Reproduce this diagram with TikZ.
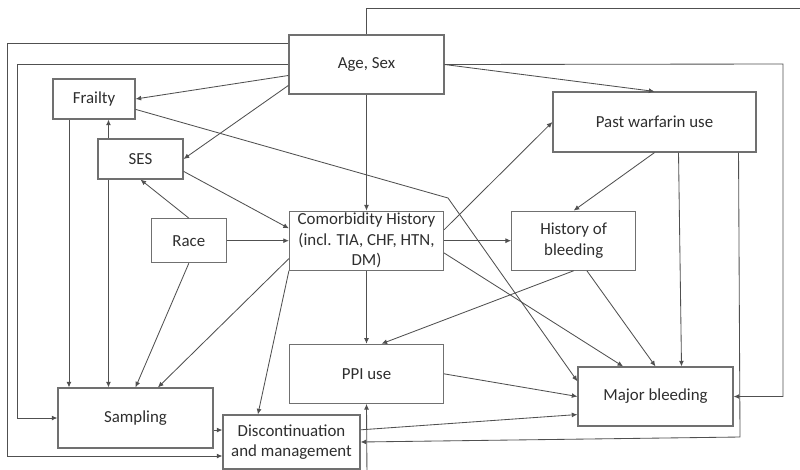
\documentclass[tikz,border=0pt]{standalone}
\usepackage{fontspec}
\setmainfont{Carlito}
\usepackage{tikz}
\usetikzlibrary{positioning, arrows.meta}
\definecolor{boxgrey}{HTML}{707070}
\definecolor{linegrey}{HTML}{505050}
\definecolor{textgrey}{HTML}{2E2E2E}

\begin{document}
\begin{tikzpicture}[x=0.025cm, y=-0.025cm,
    factor/.style={draw=boxgrey, line width=0.8pt, align=center, inner sep=0.5pt,
      font=\fontsize{12}{14.6}\selectfont\color{textgrey}},
    link/.style={draw=linegrey, line width=0.6pt, -{Latex[length=4pt, width=3.5pt]}},
    rail/.style={draw=linegrey, line width=0.6pt}]
  \useasboundingbox (0,0) rectangle (800,469);

  % factors
  \node[factor, minimum width=3.875cm, minimum height=1.475cm] (age) at (366.5,64.5) {Age, Sex};
  \node[factor, below=2.9cm of age, minimum width=3.85cm, minimum height=1.475cm] (comor)
    {Comorbidity History\\(incl. TIA, CHF, HTN,\\DM)};
  \node[factor, below=1.825cm of comor, minimum width=3.85cm, minimum height=1.475cm] (ppi) {PPI use};
  \node[factor, right=1.675cm of comor, minimum width=3.1cm, minimum height=1.475cm] (hob)
    {History of\\bleeding};
  \node[factor, left=1.55cm of comor, minimum width=1.875cm, minimum height=1.1cm] (race) {Race};
  \node[factor, minimum width=2.05cm, minimum height=1.0cm] (frailty) at (94,99) {Frailty};
  \node[factor, minimum width=2.125cm, minimum height=1.0cm] (ses) at (140.5,159) {SES};
  \node[factor, minimum width=5.075cm, minimum height=1.5cm] (warf) at (654.5,122) {Past warfarin use};
  \node[factor, minimum width=3.875cm, minimum height=1.5cm] (samp) at (135.5,418) {Sampling};
  \node[factor, minimum width=3.425cm, minimum height=1.35cm] (disc) at (291.5,442)
    {Discontinuation\\and management};
  \node[factor, minimum width=3.875cm, minimum height=1.475cm] (major) at (655.5,396.5) {Major bleeding};

  % bends and loose ends
  \coordinate (topedge) at (810,8);
  \coordinate (rightrail) at (783,64);
  \coordinate (leftrail) at (7,456);
  \coordinate (fbend) at (448,198);
  \coordinate (wdrop) at (740,437);
  \coordinate (pbottom) at (367,480);

  % from age, sex
  \draw[link] (age.188) -- (frailty.east);
  \draw[link] (age.195) -- (ses.east);
  \draw[link] (age) -- (comor);
  \draw[link] (age.east) -- (warf.north);
  \draw[link] (age.east) -- (rightrail) |- (major.east);
  \draw[rail] (age.north) |- (topedge);
  \draw[link] (age.165) -| (leftrail) -- (leftrail -| disc.west);
  \draw[link] (age.west) -| ([xshift=-1cm]samp.west) -- (samp.west);

  % frailty, ses, race
  \draw[link] ([xshift=-0.625cm]frailty.south) -- ([xshift=-0.625cm]frailty.south |- samp.north);
  \draw[link] (frailty.346) -- (fbend) -- (major.169);
  \draw[link] ([xshift=-0.8cm]ses.north) -- ([xshift=-0.8cm]ses.north |- frailty.south);
  \draw[link] ([xshift=-0.8cm]ses.south) -- ([xshift=-0.8cm]ses.south |- samp.north);
  \draw[link] (ses.344) -- (comor.171);
  \draw[link] (race.north) -- (ses.south);
  \draw[link] (race.east) -- (comor.west);
  \draw[link] (race.south) -- (samp.north);

  % comorbidity
  \draw[link] (comor.193) -- ([xshift=0.56cm]samp.north);
  \draw[link] (comor.south west) -- ([xshift=-0.84cm]disc.north);
  \draw[link] (comor) -- (ppi);
  \draw[link] (comor) -- (hob);
  \draw[link] (comor.8) -- (warf.west);
  \draw[link] (comor.351) -- ([xshift=-0.81cm]major.north);

  % past warfarin, history of bleeding
  \draw[link] (warf.south) -- (hob.north);
  \draw[link] ([xshift=0.6cm]warf.south) -- ([xshift=0.65cm]major.north);
  \draw[link] ([xshift=2.1cm]warf.south) -- (wdrop) -- (disc.east);
  \draw[link] (hob.south) -- ([xshift=0.375cm]ppi.north);
  \draw[link] ([xshift=0.33cm]hob.south) -- (major.north);

  % ppi, sampling, discontinuation
  \draw[link] (ppi.east) -- (major.west);
  \draw[link] (pbottom) -- (ppi.south);
  \draw[link] ([yshift=-0.3cm]samp.east) -- ([yshift=-0.3cm]samp.east -| disc.west);
  \draw[link] (disc.10) -- (major.193);
\end{tikzpicture}
\end{document}
